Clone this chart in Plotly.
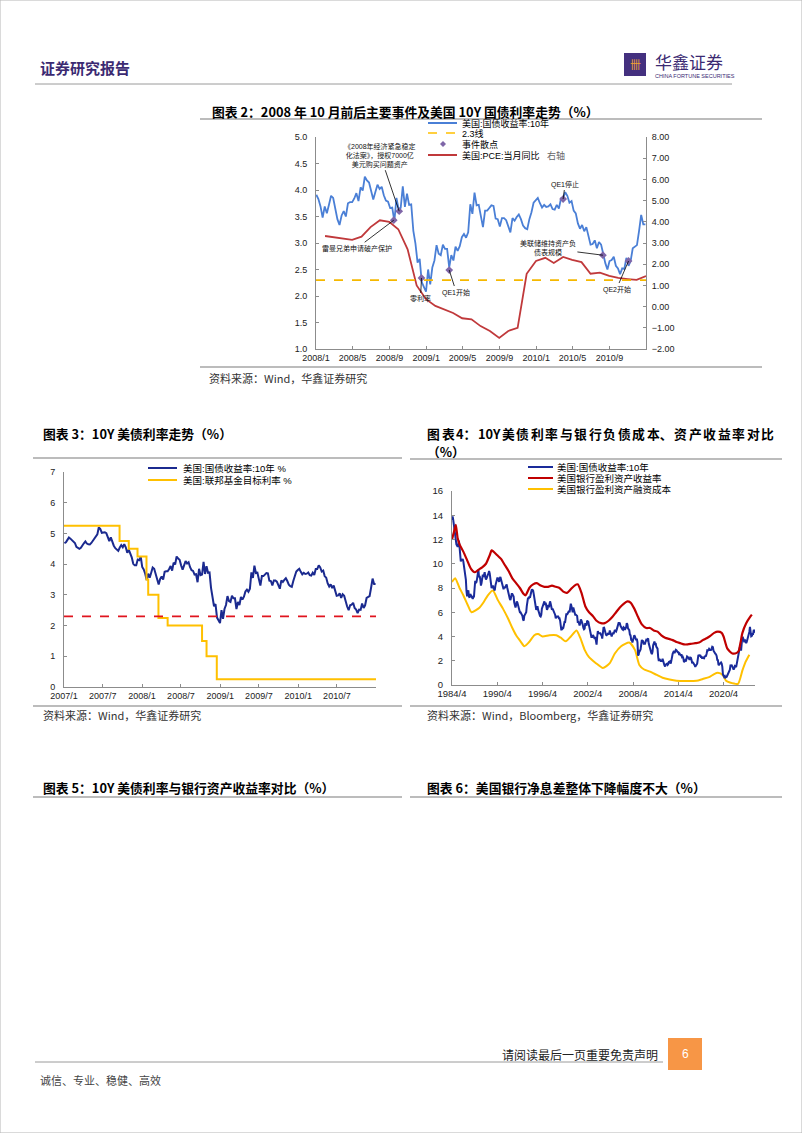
import plotly.graph_objects as go
import pandas as pd

W, H = 802, 1133


def X(px):
    return px / W


def Y(py):
    return 1 - py / H


# ------------------------------------------------------------------ data
# US 10Y Treasury yield, weekly (Wednesdays) 2007-01-03 .. 2010-12-29
ust10y_2007 = [4.68, 4.71, 4.79, 4.87, 4.83, 4.78, 4.74, 4.69, 4.56, 4.52, 4.50, 4.53, 4.62,
               4.68, 4.74, 4.67, 4.65, 4.64, 4.69, 4.76, 4.85, 4.88, 4.97, 5.20, 5.14, 5.02,
               5.03, 5.04, 5.01, 4.90, 4.75, 4.87, 4.71, 4.60, 4.52, 4.46, 4.43, 4.54, 4.62,
               4.55, 4.65, 4.55, 4.37, 4.47, 4.34, 4.22, 4.01, 3.96, 3.96, 4.15, 4.13, 4.24]
ust10y_2008 = [3.91, 3.83, 3.69, 3.48, 3.69, 3.56, 3.72, 3.89, 3.85, 3.65, 3.45, 3.34, 3.52,
               3.60, 3.50, 3.75, 3.77, 3.77, 3.84, 3.94, 3.79, 4.05, 3.99, 4.25, 4.18, 4.14,
               3.96, 3.82, 3.96, 4.10, 4.02, 4.06, 3.90, 3.80, 3.78, 3.66, 3.67, 3.41, 3.85,
               3.64, 3.66, 4.07, 3.68, 3.93, 3.72, 3.73, 3.23, 2.99, 2.63, 2.70, 2.26, 2.17, 2.08]
ust10y_2009 = [2.50, 2.22, 2.54, 2.67, 2.96, 2.80, 2.77, 2.97, 2.89, 2.89, 2.54, 2.77, 2.67,
               2.93, 2.85, 2.94, 3.11, 3.17, 3.10, 3.20, 3.73, 3.55, 3.95, 3.71, 3.72, 3.53,
               3.30, 3.61, 3.61, 3.66, 3.71, 3.70, 3.46, 3.45, 3.31, 3.47, 3.47, 3.43, 3.31,
               3.20, 3.47, 3.42, 3.49, 3.54, 3.45, 3.33, 3.28, 3.26, 3.45, 3.58, 3.76, 3.81]
ust10y_2010 = [3.85, 3.75, 3.67, 3.72, 3.68, 3.69, 3.73, 3.64, 3.63, 3.72, 3.65, 3.84, 3.84,
               3.96, 3.89, 3.76, 3.79, 3.61, 3.56, 3.37, 3.27, 3.34, 3.22, 3.30, 3.10, 2.97,
               2.98, 3.05, 2.90, 3.02, 2.97, 2.78, 2.62, 2.50, 2.66, 2.68, 2.74, 2.57, 2.52,
               2.41, 2.52, 2.51, 2.72, 2.57, 2.66, 2.90, 2.93, 2.96, 3.23, 3.53, 3.35, 3.35]
ust10y_weekly = ust10y_2007 + ust10y_2008 + ust10y_2009 + ust10y_2010
weekly_dates = pd.date_range("2007-01-03", periods=len(ust10y_weekly), freq="7D")

# US PCE y/y, monthly 2008-01 .. 2010-12 (right axis)
pce_yoy = [3.33, 3.27, 3.20, 3.15, 3.30, 3.75, 4.07, 4.00, 3.65, 2.70, 1.00, 0.35,
           0.03, -0.12, -0.30, -0.55, -0.60, -0.92, -1.15, -1.48, -1.15, -1.00, 1.55, 2.15,
           2.30, 2.06, 2.34, 2.20, 2.10, 1.55, 1.60, 1.45, 1.35, 1.30, 1.26, 1.44]
pce_dates = pd.date_range("2008-01-31", periods=len(pce_yoy), freq=pd.offsets.MonthEnd())

# events
event_dates = ["2008-09-15", "2008-10-03", "2008-12-16", "2009-03-18",
               "2010-03-31", "2010-08-10", "2010-11-03"]
event_values = [3.43, 3.60, 2.34, 2.49, 3.83, 2.77, 2.66]
event_labels = ["雷曼兄弟申请破产保护",
                "《2008年经济紧急稳定<br>化法案》，授权7000亿<br>美元购买问题资产",
                "零利率", "QE1开始", "QE1停止", "美联储维持资产负<br>债表规模", "QE2开始"]
event_label_offsets = [(-37, 28), (-19, -56), (-1, 21), (7, 22), (2, -15), (-55, -7), (-12, 28)]

threshold = 2.3

# Fed funds target (step)
ffr_dates = ["2007-01-01", "2007-09-18", "2007-10-31", "2007-12-11", "2008-01-22", "2008-01-30",
             "2008-03-18", "2008-04-30", "2008-10-08", "2008-10-29", "2008-12-16", "2010-12-31"]
ffr_values = [5.25, 4.75, 4.50, 4.25, 3.50, 3.00, 2.25, 2.00, 1.50, 1.00, 0.25, 0.25]

# US 10Y monthly 1984-04 .. 2024-06
ust10y_monthly = [
    13.6, 13.9, 13.6, 13.2, 12.6, 12.4, 11.9, 11.6, 11.5,
    11.4, 11.5, 11.9, 11.4, 10.9, 10.2, 10.3, 10.3, 10.4, 10.2, 9.8, 9.3,
    9.2, 8.7, 7.8, 7.3, 7.7, 7.8, 7.3, 7.2, 7.5, 7.4, 7.3, 7.1,
    7.1, 7.3, 7.3, 8.0, 8.6, 8.4, 8.5, 8.8, 9.4, 9.5, 8.9, 9.0,
    8.7, 8.2, 8.4, 8.7, 9.1, 8.9, 9.1, 9.3, 8.9, 8.7, 8.8, 9.1,
    9.1, 9.2, 9.4, 9.2, 8.9, 8.3, 8.0, 8.1, 8.2, 8.0, 7.9, 7.8,
    8.2, 8.5, 8.6, 8.8, 8.8, 8.5, 8.5, 8.8, 8.9, 8.7, 8.4, 8.1,
    8.1, 7.9, 8.1, 8.0, 8.1, 8.3, 8.3, 8.0, 7.7, 7.5, 7.4, 7.1,
    7.0, 7.3, 7.5, 7.5, 7.4, 7.3, 6.8, 6.6, 6.4, 6.6, 6.9, 6.8,
    6.6, 6.3, 6.0, 6.0, 6.0, 5.9, 5.8, 5.7, 5.4, 5.3, 5.7, 5.8,
    5.8, 6.0, 6.5, 7.0, 7.2, 7.1, 7.3, 7.2, 7.5, 7.7, 7.9, 7.8,
    7.8, 7.5, 7.2, 7.1, 6.7, 6.2, 6.3, 6.5, 6.2, 6.0, 5.9, 5.7,
    5.65, 5.8, 6.3, 6.5, 6.7, 6.9, 6.9, 6.6, 6.8, 6.5, 6.2, 6.3,
    6.6, 6.4, 6.7, 6.9, 6.7, 6.5, 6.2, 6.3, 6.2, 6.0, 5.9, 5.8,
    5.5, 5.6, 5.65, 5.65, 5.65, 5.5, 5.5, 5.3, 4.8, 4.5, 4.8, 4.65,
    4.7, 5.0, 5.2, 5.2, 5.5, 5.9, 5.8, 5.9, 5.9, 6.1, 6.0, 6.3,
    6.7, 6.5, 6.3, 6.0, 6.4, 6.1, 6.05, 5.8, 5.8, 5.7, 5.7, 5.2,
    5.2, 5.1, 4.9, 5.1, 5.4, 5.3, 5.2, 4.97, 4.7, 4.6, 4.65, 5.1,
    5.0, 4.9, 5.3, 5.2, 5.2, 4.9, 4.65, 4.3, 3.9, 3.9, 4.05, 4.0,
    4.05, 3.9, 3.8, 3.96, 3.57, 3.33, 3.98, 4.45, 4.27, 4.29, 4.3, 4.27,
    4.15, 4.08, 3.83, 4.35, 4.72, 4.73, 4.5, 4.28, 4.13, 4.10, 4.19, 4.23,
    4.22, 4.17, 4.5, 4.34, 4.14, 4.0, 4.18, 4.26, 4.2, 4.46, 4.54, 4.47,
    4.42, 4.57, 4.72, 4.99, 5.11, 5.11, 5.09, 4.88, 4.72, 4.73, 4.60, 4.56,
    4.76, 4.72, 4.56, 4.69, 4.75, 5.10, 5.00, 4.67, 4.52, 4.53, 4.15, 4.10,
    3.74, 3.74, 3.51, 3.68, 3.88, 4.10, 4.01, 3.89, 3.69, 3.81, 3.53, 2.42,
    2.52, 2.87, 2.82, 2.93, 3.29, 3.72, 3.56, 3.59, 3.40, 3.39, 3.40, 3.59,
    3.73, 3.69, 3.73, 3.85, 3.42, 3.20, 3.01, 2.70, 2.65, 2.54, 2.76, 3.29,
    3.39, 3.58, 3.41, 3.46, 3.17, 3.00, 3.00, 2.30, 1.98, 2.15, 2.01, 1.98,
    1.97, 1.97, 2.17, 2.05, 1.80, 1.62, 1.53, 1.68, 1.72, 1.75, 1.65, 1.72,
    1.91, 1.98, 1.96, 1.76, 1.93, 2.30, 2.58, 2.74, 2.81, 2.62, 2.72, 2.90,
    2.86, 2.71, 2.72, 2.71, 2.56, 2.60, 2.54, 2.42, 2.53, 2.30, 2.33, 2.21,
    1.88, 1.98, 2.04, 1.94, 2.20, 2.36, 2.32, 2.17, 2.17, 2.07, 2.26, 2.24,
    2.09, 1.78, 1.89, 1.81, 1.81, 1.64, 1.50, 1.56, 1.63, 1.76, 2.14, 2.49,
    2.43, 2.42, 2.48, 2.30, 2.30, 2.19, 2.32, 2.21, 2.20, 2.36, 2.35, 2.40,
    2.58, 2.86, 2.84, 2.87, 2.98, 2.91, 2.89, 2.89, 3.00, 3.15, 3.12, 2.83,
    2.71, 2.68, 2.57, 2.53, 2.40, 2.07, 2.06, 1.63, 1.70, 1.71, 1.81, 1.86,
    1.76, 1.50, 0.87, 0.66, 0.67, 0.73, 0.62, 0.65, 0.68, 0.79, 0.87, 0.93,
    1.08, 1.26, 1.61, 1.64, 1.62, 1.52, 1.32, 1.28, 1.37, 1.58, 1.56, 1.47,
    1.76, 1.93, 2.13, 2.75, 2.90, 3.14, 2.90, 2.90, 3.52, 3.98, 3.89, 3.62,
    3.53, 3.75, 3.66, 3.46, 3.57, 3.75, 3.90, 4.17, 4.38, 4.80, 4.50, 4.02,
    4.06, 4.21, 4.21, 4.54, 4.48, 4.31]
monthly_dates = pd.date_range("1984-04-01", periods=len(ust10y_monthly), freq="MS")

# US bank earning-asset yield
asset_yield_dates = ["1984-04", "1984-07", "1984-10", "1985-01", "1985-04", "1985-10", "1986-04",
                     "1986-10", "1987-04", "1987-10", "1988-04", "1988-10", "1989-04", "1989-07",
                     "1989-10", "1990-04", "1990-10", "1991-04", "1991-10", "1992-04", "1992-10",
                     "1993-04", "1993-10", "1994-01", "1994-07", "1995-01", "1995-07", "1996-01",
                     "1996-07", "1997-01", "1997-07", "1998-01", "1998-07", "1999-01", "1999-07",
                     "2000-01", "2000-07", "2000-12", "2001-06", "2001-12", "2002-06", "2002-12",
                     "2003-06", "2004-01", "2004-07", "2005-01", "2005-07", "2006-01", "2006-07",
                     "2007-01", "2007-07", "2007-12", "2008-06", "2008-12", "2009-06", "2010-01",
                     "2010-07", "2011-01", "2011-07", "2012-01", "2012-07", "2013-01", "2013-07",
                     "2014-01", "2014-07", "2015-01", "2015-07", "2016-01", "2016-07", "2017-01",
                     "2017-07", "2018-01", "2018-07", "2019-01", "2019-07", "2020-01", "2020-04",
                     "2020-10", "2021-06", "2022-01", "2022-04", "2022-07", "2022-10", "2023-04",
                     "2023-10", "2024-01"]
asset_yield = [12.0, 12.6, 13.2, 12.1, 11.6, 11.0, 10.3, 9.6, 9.3, 9.5, 9.7, 10.0, 10.7, 11.1,
               11.0, 10.7, 10.4, 9.9, 9.4, 8.8, 8.4, 8.0, 7.5, 7.4, 8.0, 8.3, 8.4, 8.2, 8.1,
               8.1, 8.2, 8.1, 8.0, 7.7, 7.6, 7.9, 8.2, 8.3, 7.6, 6.5, 6.0, 5.7, 5.3, 5.1, 5.1,
               5.3, 5.6, 6.0, 6.4, 6.7, 6.9, 6.8, 6.3, 5.6, 5.0, 4.7, 4.7, 4.5, 4.4, 4.1, 3.9,
               3.8, 3.7, 3.55, 3.45, 3.35, 3.35, 3.4, 3.45, 3.5, 3.7, 3.85, 4.05, 4.3, 4.4,
               4.3, 4.0, 3.0, 2.6, 2.65, 2.8, 3.5, 4.3, 5.1, 5.6, 5.8]

# US bank earning-asset funding cost
funding_cost_dates = ["1984-04", "1984-09", "1985-04", "1985-10", "1986-05", "1986-11", "1987-12",
                      "1988-06", "1989-01", "1989-09", "1990-05", "1991-01", "1991-09", "1992-04",
                      "1992-10", "1993-05", "1993-11", "1994-06", "1995-03", "1995-09", "1996-04",
                      "1997-03", "1998-02", "1998-09", "1999-05", "2000-01", "2000-10", "2001-04",
                      "2001-11", "2002-06", "2003-05", "2004-04", "2005-03", "2005-11", "2006-09",
                      "2007-10", "2008-07", "2009-02", "2009-09", "2010-07", "2011-05", "2012-03",
                      "2013-02", "2014-01", "2015-05", "2016-09", "2017-07", "2018-05", "2019-01",
                      "2019-07", "2020-03", "2020-08", "2021-02", "2022-03", "2022-10", "2023-03",
                      "2023-09"]
funding_cost = [8.5, 8.8, 8.0, 7.4, 6.6, 6.0, 6.4, 6.8, 7.4, 7.8, 7.0, 6.3, 5.5, 4.7, 4.1, 3.6,
                3.2, 3.5, 4.1, 4.2, 4.0, 4.1, 4.1, 3.9, 3.6, 4.0, 4.5, 3.9, 2.9, 2.3, 1.8, 1.4,
                1.8, 2.6, 3.2, 3.5, 2.9, 1.65, 1.3, 1.1, 0.85, 0.6, 0.45, 0.35, 0.33, 0.35, 0.5,
                0.65, 0.9, 1.0, 0.8, 0.35, 0.2, 0.1, 1.2, 1.9, 2.5]

# ------------------------------------------------------------------ style
CJK = "Noto Sans CJK SC"
MIX = "Liberation Sans, Arial, Noto Sans CJK SC"
AXC = "#8c8c8c"

fig = go.Figure()

# ---- chart 2
c2_mask = weekly_dates >= pd.Timestamp("2008-01-01")
fig.add_trace(go.Scatter(x=weekly_dates[c2_mask], y=[v for v, m in zip(ust10y_weekly, c2_mask) if m],
                         xaxis="x", yaxis="y", mode="lines",
                         line=dict(color="#4a7fd6", width=1.8), hoverinfo="skip"))
fig.add_trace(go.Scatter(x=pce_dates, y=pce_yoy, xaxis="x", yaxis="y2", mode="lines",
                         line=dict(color="#c0393b", width=1.8), hoverinfo="skip"))
fig.add_trace(go.Scatter(x=event_dates, y=event_values, xaxis="x", yaxis="y", mode="markers",
                         marker=dict(symbol="diamond", size=6, color="#7f66a8"), hoverinfo="skip"))

# ---- chart 3
fig.add_trace(go.Scatter(x=weekly_dates, y=ust10y_weekly, xaxis="x2", yaxis="y3", mode="lines",
                         line=dict(color="#1b2a8f", width=2), hoverinfo="skip"))
fig.add_trace(go.Scatter(x=ffr_dates, y=ffr_values, xaxis="x2", yaxis="y3", mode="lines",
                         line=dict(color="#ffc000", width=2, shape="hv"), hoverinfo="skip"))

# ---- chart 4
fig.add_trace(go.Scatter(x=funding_cost_dates, y=funding_cost, xaxis="x3", yaxis="y4", mode="lines",
                         line=dict(color="#ffc000", width=2, shape="spline", smoothing=0.6),
                         hoverinfo="skip"))
fig.add_trace(go.Scatter(x=monthly_dates, y=ust10y_monthly, xaxis="x3", yaxis="y4", mode="lines",
                         line=dict(color="#1a2b9a", width=2), hoverinfo="skip"))
fig.add_trace(go.Scatter(x=asset_yield_dates, y=asset_yield, xaxis="x3", yaxis="y4", mode="lines",
                         line=dict(color="#c00000", width=2.2, shape="spline", smoothing=0.6),
                         hoverinfo="skip"))


def xax(domain, anchor, rng, tick0, dtick, size=9):
    return dict(domain=domain, anchor=anchor, type="date", range=rng, tick0=tick0, dtick=dtick,
                tickformat="%Y/%-m", showline=True, linecolor=AXC, linewidth=1, ticks="inside",
                ticklen=3, tickcolor=AXC, showgrid=False, zeroline=False,
                tickfont=dict(family=MIX, size=size, color="#222"),
                automargin=False, fixedrange=True)


def yax(domain, anchor, rng, dtick, fmt, side="left", standoff=6, size=9):
    d = dict(anchor=anchor, range=rng, dtick=dtick, tickformat=fmt, side=side,
             showline=True, linecolor=AXC, linewidth=1, ticks="inside", ticklen=3,
             tickcolor=AXC, showgrid=False, zeroline=False,
             tickfont=dict(family=MIX, size=size, color="#222"),
             ticklabelstandoff=standoff, automargin=False, fixedrange=True)
    if domain is not None:
        d["domain"] = domain
    return d


y2 = yax(None, "x", [-2, 8], 1, ".2f", side="right", standoff=3)
y2["overlaying"] = "y"

shapes = []
annotations = []


def hline(x0, x1, y, color="#a6a6a6", width=1.5):
    shapes.append(dict(type="line", xref="paper", yref="paper", x0=X(x0), x1=X(x1), y0=Y(y), y1=Y(y),
                       line=dict(color=color, width=width)))


def text(x, y, s, size, color="#000", family=CJK, anchor="left", bold=False):
    annotations.append(dict(xref="paper", yref="paper", x=X(x), y=Y(y), text=f"<b>{s}</b>" if bold else s,
                            showarrow=False, xanchor=anchor, yanchor="middle",
                            font=dict(family=family, size=size, color=color)))


def justified(x0, x1, y, tokens, size, bold=True):
    # spread title tokens evenly between x0 and x1 (the source title is justified)
    def w(tok):
        return sum(1.0 if ord(c) > 0x2000 else 0.58 for c in tok) * size
    widths = [w(t) for t in tokens]
    gap = (x1 - x0 - sum(widths)) / (len(tokens) - 1)
    x = x0
    for t, wd in zip(tokens, widths):
        text(x, y, t, size, bold=bold)
        x += wd + gap


def leg_line(x0, x1, y, color, width=2, dash="solid"):
    shapes.append(dict(type="line", xref="paper", yref="paper", x0=X(x0), x1=X(x1), y0=Y(y), y1=Y(y),
                       line=dict(color=color, width=width, dash=dash)))


# page border
shapes.append(dict(type="rect", xref="paper", yref="paper", x0=0, x1=1, y0=0, y1=1,
                   line=dict(color="#b5b5b5", width=1)))

# header
text(38, 68, "证券研究报告", 15, color="#3b2a72", bold=True)
shapes.append(dict(type="rect", xref="paper", yref="paper", x0=X(624), x1=X(646), y0=Y(76), y1=Y(53),
                   fillcolor="#44307f", line=dict(width=0)))
text(635, 64, "卌", 11, color="#f0a030", anchor="center")
text(653, 61, "华鑫证券", 17, color="#3b2a72")
text(653, 76, "CHINA FORTUNE SECURITIES", 5.5, color="#3b2a72", family="Liberation Sans")
hline(35, 732, 84, color="#9a9a9a", width=1)

# chart 2 frame texts
text(210, 111, "图表 2：2008 年 10 月前后主要事件及美国 10Y 国债利率走势（%）", 12.8, bold=True)
hline(200, 762, 119)
hline(200, 762, 367)
text(207, 378, "资料来源：Wind，华鑫证券研究", 11, color="#333")

# chart 2 legend
leg_line(428, 457, 123, "#4a7fd6", 2)
text(460, 123, "美国:国债收益率:10年", 9, family=MIX)
leg_line(428, 457, 133, "#ffc000", 1.6, "dash")
text(460, 133, "2.3线", 9, family=MIX)
shapes.append(dict(type="path", xref="paper", yref="paper",
                   path=f"M {X(443)},{Y(141)} L {X(446)},{Y(144)} L {X(443)},{Y(147)} L {X(440)},{Y(144)} Z",
                   fillcolor="#7f66a8", line=dict(width=0)))
text(460, 144, "事件散点", 9, family=MIX)
leg_line(428, 457, 155, "#c0393b", 2)
text(460, 155, "美国:PCE:当月同比", 9, family=MIX)
text(545, 155, "右轴", 9, color="#666")

# threshold line chart 2
shapes.append(dict(type="line", xref="x domain", yref="y", x0=0, x1=1, y0=threshold, y1=threshold,
                   line=dict(color="#f5b800", width=1.6, dash="dash")))

# event labels
for d, v, lab, (ax, ay) in zip(event_dates, event_values, event_labels, event_label_offsets):
    annotations.append(dict(xref="x", yref="y", x=d, y=v, text=lab, showarrow=True, arrowhead=0,
                            arrowwidth=0.8, arrowcolor="#000", ax=ax, ay=ay, standoff=0,
                            font=dict(family=MIX, size=7, color="#111")))

# chart 3 texts
text(41, 433, "图表 3：10Y 美债利率走势（%）", 12.8, bold=True)
hline(33, 402, 458)
hline(33, 402, 706)
text(41, 715, "资料来源：Wind，华鑫证券研究", 11, color="#333")
leg_line(148, 177, 468, "#1b2a8f", 2)
text(181, 468, "美国:国债收益率:10年 %", 9.5, family=MIX)
leg_line(148, 177, 480, "#ffc000", 2)
text(181, 480, "美国:联邦基金目标利率 %", 9.5, family=MIX)
shapes.append(dict(type="line", xref="x2 domain", yref="y3", x0=0, x1=1, y0=threshold, y1=threshold,
                   line=dict(color="#e0141e", width=1.8, dash="dash")))

# chart 4 texts
justified(425, 772, 433,
          ["图", "表", "4：", "10Y", "美", "债", "利", "率", "与", "银", "行", "负", "债", "成", "本、",
           "资", "产", "收", "益", "率", "对", "比"], 12.8)
text(425, 451, "（%）", 12.8, bold=True)
hline(410, 782, 459)
hline(410, 782, 706)
text(425, 715, "资料来源：Wind，Bloomberg，华鑫证券研究", 11, color="#333")
leg_line(528, 553, 467, "#1a2b9a", 2)
text(555, 467, "美国:国债收益率:10年", 9.5, family=MIX)
leg_line(528, 553, 478, "#c00000", 2)
text(555, 478, "美国银行盈利资产收益率", 9.5, family=MIX)
leg_line(528, 553, 489, "#ffc000", 2)
text(555, 489, "美国银行盈利资产融资成本", 9.5, family=MIX)

# chart 5 / 6 titles
text(41, 787, "图表 5：10Y 美债利率与银行资产收益率对比（%）", 12.8, bold=True)
text(425, 787, "图表 6：美国银行净息差整体下降幅度不大（%）", 12.8, bold=True)
hline(33, 402, 797)
hline(410, 782, 797)

# footer
text(660, 1054, "请阅读最后一页重要免责声明", 12, color="#222", anchor="right")
hline(35, 663, 1062, color="#9a9a9a", width=1)
shapes.append(dict(type="rect", xref="paper", yref="paper", x0=X(668), x1=X(702), y0=Y(1070), y1=Y(1038),
                   fillcolor="#f79646", line=dict(width=0)))
text(685, 1054, "6", 12, color="#ffffff", family="Liberation Sans", anchor="center")
text(38, 1080, "诚信、专业、稳健、高效", 11, color="#444")

fig.update_layout(
    width=W, height=H, margin=dict(l=0, r=0, t=0, b=0, autoexpand=False),
    paper_bgcolor="white", plot_bgcolor="rgba(0,0,0,0)", showlegend=False,
    xaxis=xax([X(316), X(646)], "y", ["2008-01-01", "2010-12-31"], "2008-01-01", "M4"),
    yaxis=yax([Y(349), Y(137)], "x", [1, 5], 0.5, ".1f"),
    yaxis2=y2,
    xaxis2=xax([X(64), X(376)], "y3", ["2007-01-01", "2010-12-31"], "2007-01-01", "M6"),
    yaxis3=yax([Y(687), Y(472)], "x2", [0, 7], 1, "d"),
    xaxis3=xax([X(452), X(755)], "y4", ["1984-04-01", "2024-06-01"], "1984-04-01", "M72", size=9.5),
    yaxis4=yax([Y(685), Y(491)], "x3", [0, 16], 2, "d", size=9.5),
    shapes=shapes, annotations=annotations,
)

fig.write_html("out.html", config={"displayModeBar": False},
               post_script="document.body.style.margin='0';document.body.style.overflow='hidden';")
